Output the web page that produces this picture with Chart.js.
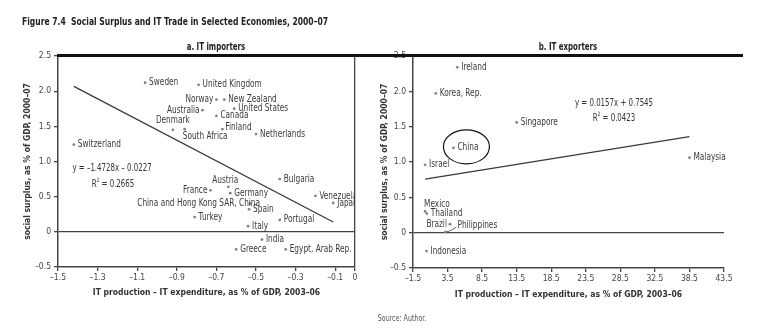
<!DOCTYPE html>
<html>
<head>
<meta charset="utf-8">
<script src="https://cdn.jsdelivr.net/npm/chart.js@4.4.1/dist/chart.umd.min.js"></script>
<style>
  body { margin: 0; background: #fff; width: 762px; height: 331px; overflow: hidden; position: relative;
         font-family: "DejaVu Sans Condensed", "Liberation Sans Narrow", sans-serif; color: #333; }
  canvas { position: absolute; top: 0; }
  #leftChart { left: 0; }
  #rightChart { left: 370px; }
  .txt { position: absolute; white-space: nowrap; z-index: 2; line-height: 1; }
  .c { transform: translate(-50%, -50%) scaleX(0.78); }
  .l { transform: translate(0, -50%) scaleX(0.77); transform-origin: left center; }
  .rule { position: absolute; left: 57px; top: 54px; width: 686px; height: 3px; background: #111; z-index: 2; }
</style>
</head>
<body>
<div class="txt l" style="left:22px;top:21px;font-size:11px;font-weight:bold;color:#222;">Figure 7.4&nbsp;&nbsp;Social Surplus and IT Trade in Selected Economies, 2000–07</div>
<div class="txt c" style="left:216px;top:47px;font-size:10px;font-weight:bold;color:#222;">a. IT importers</div>
<div class="txt c" style="left:568px;top:47px;font-size:10px;font-weight:bold;color:#222;">b. IT exporters</div>
<div class="rule"></div>
<div class="txt c" style="left:112px;top:168px;font-size:10px;">y = –1.4728x – 0.0227</div>
<div class="txt c" style="left:113px;top:183px;font-size:10px;">R<sup style="font-size:6px">2</sup> = 0.2665</div>
<div class="txt c" style="left:614px;top:103px;font-size:10px;">y = 0.0157x + 0.7545</div>
<div class="txt c" style="left:614px;top:117px;font-size:10px;">R<sup style="font-size:6px">2</sup> = 0.0423</div>
<div class="txt c" style="left:402px;top:318px;font-size:9px;color:#555;">Source: Author.</div>
<canvas id="leftChart" width="370" height="331"></canvas>
<canvas id="rightChart" width="392" height="331"></canvas>
<script>
// a. IT importers
const importerNames = ["Sweden", "United Kingdom", "Norway", "New Zealand", "United States", "Australia", "Canada",
    "Denmark", "South Africa", "Finland", "Netherlands", "Switzerland", "Bulgaria", "Austria", "France", "Germany",
    "China and Hong Kong SAR, China", "Spain", "Turkey", "Italy", "Portugal", "Venezuela, RB", "Japan", "India",
    "Greece", "Egypt, Arab Rep."];
const importerX = [-1.06, -0.79, -0.70, -0.66, -0.61, -0.77, -0.70, -0.92, -0.86, -0.67, -0.50, -1.42, -0.38, -0.64,
    -0.73, -0.63, -0.53, -0.535, -0.81, -0.54, -0.38, -0.20, -0.11, -0.47, -0.60, -0.35];
const importerY = [2.12, 2.09, 1.88, 1.88, 1.75, 1.73, 1.65, 1.45, 1.46, 1.46, 1.39, 1.24, 0.75, 0.64, 0.59, 0.55,
    0.40, 0.32, 0.21, 0.08, 0.17, 0.51, 0.41, -0.11, -0.25, -0.25];
const importerFit = [-1.4728, -0.0227];

// b. IT exporters
const exporterNames = ["Ireland", "Korea, Rep.", "Singapore", "China", "Israel", "Malaysia", "Mexico", "Thailand",
    "Brazil", "Philippines", "Indonesia"];
const exporterX = [4.9, 1.8, 13.5, 4.35, 0.25, 38.5, 0.25, 0.5, 3.85, 3.2, 0.45];
const exporterY = [2.34, 1.97, 1.56, 1.20, 0.96, 1.06, 0.30, 0.27, 0.12, 0.01, -0.26];
const exporterFit = [0.0157, 0.7545];

// ticks
const yTicks = [-0.5, 0, 0.5, 1.0, 1.5, 2.0, 2.5];
const yTickLabels = ["–0.5", "0", "0.5", "1.0", "1.5", "2.0", "2.5"];
const leftXTicks = [-1.5, -1.3, -1.1, -0.9, -0.7, -0.5, -0.3, -0.1, 0];
const leftXTickLabels = ["–1.5", "–1.3", "–1.1", "–0.9", "–0.7", "–0.5", "–0.3", "–0.1", "0"];
const rightXTicks = [-1.5, 3.5, 8.5, 13.5, 18.5, 23.5, 28.5, 33.5, 38.5, 43.5];
const rightXTickLabels = ["–1.5", "3.5", "8.5", "13.5", "18.5", "23.5", "28.5", "32.5", "38.5", "43.5"];

// label placement: [textAlign, dx, dy]
const labelPlace = {
    "Norway": ["right", -3, 0], "Australia": ["right", -3, 0], "Denmark": ["center", 0, -9],
    "South Africa": ["left", -2, 7], "Finland": ["left", 3, -2], "Austria": ["center", -3, -6],
    "France": ["right", -3, 0], "China and Hong Kong SAR, China": ["right", 10, 0],
    "Mexico": ["left", -1, -7], "Brazil": ["right", -3, 0], "Philippines": ["left", 12, -7]
};

const FONT = "'DejaVu Sans Condensed', 'Liberation Sans Narrow', sans-serif";
const AXIS = "#444";
const SQUEEZE = 0.82;

const pointLabels = {
    id: "pointLabels",
    afterDatasetsDraw(chart, args, opts) {
        const ctx = chart.ctx;
        const area = chart.chartArea;
        const pts = chart.getDatasetMeta(0).data;
        ctx.save();
        if (opts.clip) {
            // left panel: labels are cut off at its right border
            ctx.beginPath();
            ctx.rect(area.left, area.top - 20, area.right - area.left, area.bottom - area.top + 20);
            ctx.clip();
        }
        ctx.font = "10px " + FONT;
        ctx.textBaseline = "middle";
        opts.names.forEach((name, i) => {
            const p = pts[i];
            const pl = labelPlace[name] || ["left", 4, 0];
            ctx.save();
            ctx.translate(p.x + pl[1], p.y + pl[2]);
            ctx.scale(SQUEEZE, 1);
            ctx.fillStyle = "#3a3a3a";
            ctx.textAlign = pl[0];
            ctx.fillText(name, 0, 0);
            ctx.restore();
            if (name === "Philippines") {
                ctx.strokeStyle = "#444";
                ctx.lineWidth = 0.8;
                ctx.beginPath();
                ctx.moveTo(p.x + 1, p.y);
                ctx.quadraticCurveTo(p.x + 6, p.y - 1, p.x + pl[1] - 1, p.y + pl[2] + 2);
                ctx.stroke();
            }
            if (opts.circle === name) {
                ctx.strokeStyle = "#111";
                ctx.lineWidth = 1.2;
                ctx.beginPath();
                ctx.ellipse(p.x + 13, p.y - 1, 23, 17, 0, 0, Math.PI * 2);
                ctx.stroke();
            }
        });
        ctx.restore();
    }
};

function makeChart(id, names, xs, ys, fit, xTicks, xLabels, area) {
    const points = xs.map((x, i) => ({ x: x, y: ys[i] }));
    const x0 = Math.min(...xs);
    const x1 = Math.max(...xs);
    return new Chart(document.getElementById(id), {
        type: "scatter",
        data: {
            datasets: [
                {
                    data: points,
                    pointRadius: 1.4,
                    pointBackgroundColor: "#8a8080",
                    pointBorderWidth: 0
                },
                {
                    type: "line",
                    data: [{ x: x0, y: fit[0] * x0 + fit[1] }, { x: x1, y: fit[0] * x1 + fit[1] }],
                    borderColor: "#3a3a3a",
                    borderWidth: 1.3,
                    pointRadius: 0,
                    fill: false
                }
            ]
        },
        options: {
            responsive: false,
            animation: false,
            events: [],
            layout: { padding: area.padding },
            plugins: {
                legend: { display: false },
                tooltip: { enabled: false },
                pointLabels: { names: names, circle: area.circle, clip: area.rightBorder }
            },
            scales: {
                x: {
                    type: "linear",
                    min: xTicks[0],
                    max: xTicks[xTicks.length - 1],
                    afterBuildTicks: (s) => { s.ticks = xTicks.map(v => ({ value: v })); },
                    afterFit: (s) => { s.height = area.xHeight; },
                    ticks: {
                        autoSkip: false, maxRotation: 0, padding: 2, color: AXIS,
                        font: { family: FONT, size: 8.5 },
                        callback: (v, i) => xLabels[i]
                    },
                    grid: {
                        color: (c) => (area.rightBorder && c.tick && c.tick.value === 0) ? AXIS : "rgba(0,0,0,0)",
                        tickColor: AXIS, tickLength: 4, lineWidth: 1.3
                    },
                    border: { color: AXIS, width: 1.5 },
                    title: {
                        display: true, text: "IT production – IT expenditure, as % of GDP, 2003–06",
                        color: "#333", font: { family: FONT, size: 8.5, weight: "bold" },
                        padding: { top: 0, bottom: area.xTitlePad }
                    }
                },
                y: {
                    type: "linear",
                    min: -0.5,
                    max: 2.5,
                    afterBuildTicks: (s) => { s.ticks = yTicks.map(v => ({ value: v })); },
                    afterFit: (s) => { s.width = area.yWidth; },
                    ticks: {
                        padding: 3, color: AXIS, font: { family: FONT, size: 8.5 },
                        callback: (v, i) => yTickLabels[i]
                    },
                    grid: {
                        color: (c) => (c.tick && c.tick.value === 0) ? AXIS : "rgba(0,0,0,0)",
                        tickColor: AXIS, tickLength: 4, lineWidth: 1.3
                    },
                    border: { color: AXIS, width: 1.5 },
                    title: {
                        display: true, text: "social surplus, as % of GDP, 2000–07",
                        color: "#333", font: { family: FONT, size: 8.5, weight: "bold" },
                        padding: { top: area.yTitlePad, bottom: 0 }
                    }
                }
            }
        },
        plugins: [pointLabels]
    });
}

makeChart("leftChart", importerNames, importerX, importerY, importerFit, leftXTicks, leftXTickLabels, {
    padding: { left: 20, right: 15, top: 56, bottom: 24 },
    xHeight: 40, yWidth: 38, xTitlePad: 9, yTitlePad: 3, rightBorder: true
});
makeChart("rightChart", exporterNames, exporterX, exporterY, exporterFit, rightXTicks, rightXTickLabels, {
    padding: { left: 6, right: 38, top: 56, bottom: 24 },
    xHeight: 39, yWidth: 37, xTitlePad: 7, yTitlePad: 4, rightBorder: false, circle: "China"
});
</script>
</body>
</html>
